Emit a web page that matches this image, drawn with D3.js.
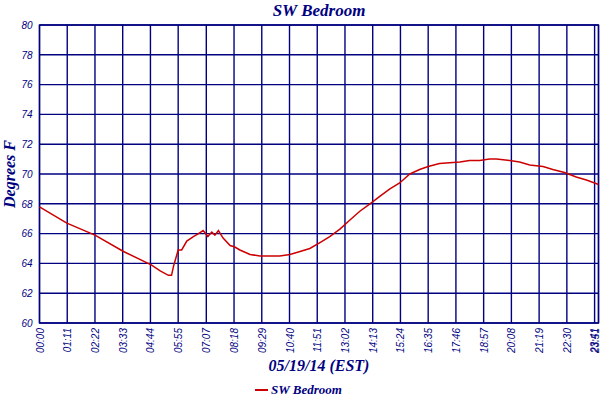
<!DOCTYPE html>
<html>
<head>
<meta charset="utf-8">
<script src="https://cdn.jsdelivr.net/npm/d3@7"></script>
<style>
    body { margin: 0; background: #ffffff; }
    .tick-label { font-family: "Liberation Sans", Arial, sans-serif; font-style: italic; font-size: 10px; fill: #000080; }
    .chart-title { font-family: "Liberation Serif", serif; font-style: italic; font-weight: bold; fill: #000080; }
</style>
</head>
<body>
<svg id="chart" width="600" height="400"></svg>
<script>
const chartTitle = "SW Bedroom";
const seriesName = "SW Bedroom";
const yTitle = "Degrees F";
const xTitle = "05/19/14 (EST)";

// readings, 05/19/14
const times = ["00:00", "01:10", "02:22", "03:35", "04:46", "05:09", "05:30", "05:38", "05:43", "05:55",
    "06:04", "06:17", "06:34", "06:47", "06:59", "07:11", "07:21", "07:29", "07:38", "07:50",
    "08:08", "08:20", "08:33", "08:59", "09:24", "10:15", "10:41", "11:07", "11:32", "11:58",
    "12:23", "12:49", "13:14", "13:40", "14:06", "14:31", "14:57", "15:22", "15:48", "16:13",
    "16:35", "17:04", "17:56", "18:21", "18:47", "19:12", "19:30", "20:04", "20:29", "20:55",
    "21:29", "21:54", "22:24", "22:54", "23:20", "23:41", "23:51"];
const temps = [67.8, 66.7, 65.9, 64.8, 63.9, 63.5, 63.2, 63.2, 63.8, 64.9,
    64.9, 65.5, 65.8, 66.0, 66.2, 65.8, 66.1, 65.9, 66.2, 65.7,
    65.2, 65.1, 64.9, 64.6, 64.5, 64.5, 64.6, 64.8, 65.0, 65.4,
    65.8, 66.3, 66.9, 67.5, 68.0, 68.5, 69.0, 69.4, 70.0, 70.3,
    70.5, 70.7, 70.8, 70.9, 70.9, 71.0, 71.0, 70.9, 70.8, 70.6,
    70.5, 70.3, 70.1, 69.8, 69.6, 69.4, 69.3];

const xTickLabels = ["00:00", "01:11", "02:22", "03:33", "04:44", "05:55", "07:07", "08:18", "09:29", "10:40",
    "11:51", "13:02", "14:13", "15:24", "16:35", "17:46", "18:57", "20:08", "21:19", "22:30", "23:41", "23:51"];
const yTicks = [60, 62, 64, 66, 68, 70, 72, 74, 76, 78, 80];

const Chart = {
    navy: "#000080",
    lineColor: "#cc0000",
    margin: { top: 25, right: 1.5, bottom: 77, left: 39.5 },
    width: 600,
    height: 400,
    parse: d3.timeParse("%Y-%m-%d %H:%M"),
    toDate: function (hm) { return Chart.parse("2014-05-19 " + hm); },
    render: function () {
        const svg = d3.select("#chart");
        const m = Chart.margin;
        const x0 = m.left, x1 = Chart.width - m.right;
        const y0 = m.top, y1 = Chart.height - m.bottom;

        const x = d3.scaleTime()
            .domain([Chart.toDate("00:00"), Chart.toDate("23:51")])
            .range([x0, x1]);
        const y = d3.scaleLinear()
            .domain([60, 80])
            .range([y1, y0]);

        const data = times.map(function (t, i) { return { date: Chart.toDate(t), value: temps[i] }; });

        // grid
        const grid = svg.append("g");
        grid.selectAll("line.h")
            .data(yTicks)
            .enter()
            .append("line")
            .attr("x1", x0).attr("x2", x1)
            .attr("y1", function (d) { return y(d); })
            .attr("y2", function (d) { return y(d); })
            .attr("stroke", Chart.navy)
            .attr("stroke-width", 1.4);
        grid.selectAll("line.v")
            .data(xTickLabels)
            .enter()
            .append("line")
            .attr("x1", function (d) { return x(Chart.toDate(d)); })
            .attr("x2", function (d) { return x(Chart.toDate(d)); })
            .attr("y1", y0).attr("y2", y1)
            .attr("stroke", Chart.navy)
            .attr("stroke-width", 1.4);
        grid.append("rect")
            .attr("x", x0).attr("y", y0)
            .attr("width", x1 - x0).attr("height", y1 - y0)
            .attr("fill", "none")
            .attr("stroke", Chart.navy)
            .attr("stroke-width", 1.4);

        // axes (labels only, lines are the grid)
        const yAxis = svg.append("g")
            .attr("transform", "translate(" + x0 + ",0)")
            .call(d3.axisLeft(y).tickValues(yTicks).tickSize(0).tickPadding(7).tickFormat(d3.format("d")));
        yAxis.select(".domain").remove();
        yAxis.selectAll("text")
            .attr("class", "tick-label")
            .attr("font-family", null).attr("font-size", null);

        const last = xTickLabels.length - 1;
        const xAxis = svg.append("g")
            .attr("transform", "translate(0," + y1 + ")")
            .call(d3.axisBottom(x)
                .tickValues(xTickLabels.map(Chart.toDate))
                .tickSize(0)
                .tickFormat(d3.timeFormat("%H:%M")));
        xAxis.select(".domain").remove();
        xAxis.selectAll("text")
            .attr("class", "tick-label")
            .attr("font-family", null).attr("font-size", null)
            .attr("text-anchor", "end")
            .attr("transform", "rotate(-90)")
            .attr("x", -5)
            // the two last labels sit on the right edge, pull them in a bit
            .attr("y", function (d, i) { return i === last ? -4 : (i === last - 1 ? -1 : 0); })
            .attr("dy", "0.35em");

        // series
        const line = d3.line()
            .x(function (d) { return x(d.date); })
            .y(function (d) { return y(d.value); });
        svg.append("path")
            .datum(data)
            .attr("d", line)
            .attr("fill", "none")
            .attr("stroke", Chart.lineColor)
            .attr("stroke-width", 1.5);

        // titles
        svg.append("text")
            .attr("class", "chart-title")
            .attr("x", (x0 + x1) / 2).attr("y", 16)
            .attr("text-anchor", "middle")
            .style("font-size", "17px")
            .text(chartTitle);
        svg.append("text")
            .attr("class", "chart-title")
            .attr("transform", "translate(15," + ((y0 + y1) / 2) + ") rotate(-90)")
            .attr("text-anchor", "middle")
            .style("font-size", "16px")
            .text(yTitle);
        svg.append("text")
            .attr("class", "chart-title")
            .attr("x", (x0 + x1) / 2).attr("y", 371)
            .attr("text-anchor", "middle")
            .style("font-size", "16px")
            .text(xTitle);

        // legend
        const legend = svg.append("g").attr("transform", "translate(255,390)");
        legend.append("line")
            .attr("x1", 0).attr("x2", 13)
            .attr("stroke", Chart.lineColor)
            .attr("stroke-width", 2);
        legend.append("text")
            .attr("class", "chart-title")
            .attr("x", 16).attr("y", 4)
            .style("font-size", "13px")
            .text(seriesName);
    }
};

Chart.render();
</script>
</body>
</html>
